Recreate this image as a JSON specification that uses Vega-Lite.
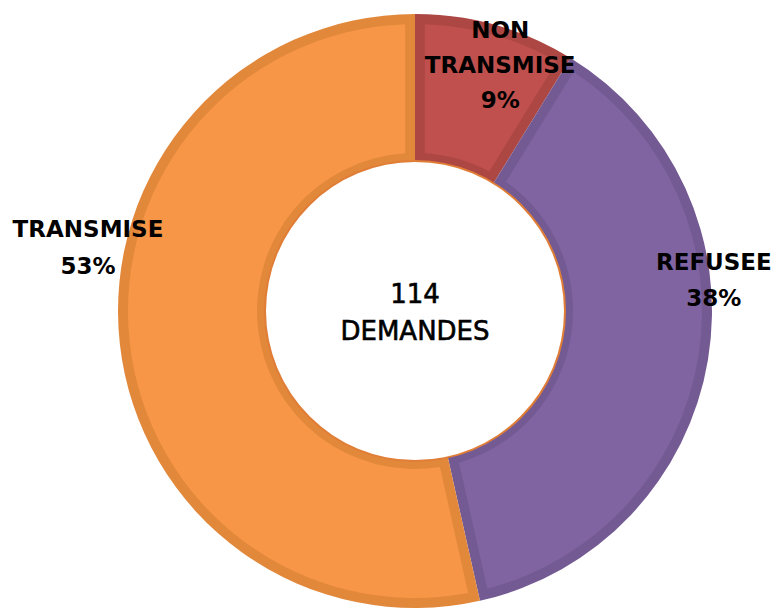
{
  "$schema": "https://vega.github.io/schema/vega-lite/v6.json",
  "width": 718,
  "height": 598,
  "autosize": {"type": "none"},
  "padding": {"left": 56, "top": 12, "right": 0, "bottom": 0},
  "background": "#ffffff",
  "config": {"view": {"stroke": null}, "text": {"font": "DejaVu Sans"}},
  "datasets": {
    "parts": [
      {"categorie": "NON TRANSMISE", "n": 10, "ordre": 1, "label": "NON\nTRANSMISE\n9%"},
      {"categorie": "REFUSEE", "n": 43, "ordre": 2, "label": "REFUSEE\n38%"},
      {"categorie": "TRANSMISE", "n": 61, "ordre": 3, "label": "TRANSMISE\n53%"}
    ],
    "centre": [{"texte": "114\nDEMANDES", "n": 114}]
  },
  "data": {"name": "parts"},
  "layer": [
    {
      "mark": {"type": "arc", "radius": 297, "radius2": 150},
      "encoding": {
        "theta": {"field": "n", "type": "quantitative", "stack": true},
        "order": {"field": "ordre", "type": "quantitative"},
        "color": {"field": "categorie", "type": "nominal", "legend": null,
          "scale": {"domain": ["NON TRANSMISE", "REFUSEE", "TRANSMISE"], "range": ["#AD4744", "#735A93", "#E2883B"]}}
      }
    },
    {
      "mark": {"type": "arc", "radius": 287, "radius2": 158, "padAngle": 0.06},
      "encoding": {
        "theta": {"field": "n", "type": "quantitative", "stack": true},
        "order": {"field": "ordre", "type": "quantitative"},
        "fill": {"field": "categorie", "type": "nominal", "legend": null,
          "scale": {"domain": ["NON TRANSMISE", "REFUSEE", "TRANSMISE"], "range": ["#C0504D", "#8064A2", "#F79646"]}}
      }
    },
    {
      "data": {"name": "centre"},
      "mark": {"type": "arc", "radius": 151, "radius2": 149, "color": "#E07D36"},
      "encoding": {"theta": {"field": "n", "type": "quantitative", "stack": true}}
    },
    {
      "data": {"name": "centre"},
      "mark": {"type": "text", "fontSize": 26, "fontWeight": "normal", "lineHeight": 37, "lineBreak": "\n", "align": "center", "baseline": "middle", "color": "#000000", "dy": -16, "stroke": "#000000", "strokeWidth": 0.6},
      "encoding": {"text": {"field": "texte", "type": "nominal"}}
    },
    {
      "transform": [
        {"stack": "n", "groupby": [], "sort": [{"field": "ordre"}], "as": ["t0", "t1"]},
        {"calculate": "(datum.t0 + datum.t1) / 2", "as": "tm"}
      ],
      "layer": [
        {
          "transform": [{"filter": "datum.categorie === 'NON TRANSMISE'"}],
          "mark": {"type": "text", "radius": 258, "dx": 15, "dy": -32, "fontSize": 23, "fontWeight": "bold", "lineHeight": 35, "lineBreak": "\n", "align": "center", "baseline": "middle", "color": "#000000"},
          "encoding": {"theta": {"field": "tm", "type": "quantitative", "stack": null}, "text": {"field": "label", "type": "nominal"}}
        },
        {
          "transform": [{"filter": "datum.categorie === 'REFUSEE'"}],
          "mark": {"type": "text", "radius": 303, "dy": -98, "fontSize": 23, "fontWeight": "bold", "lineHeight": 36, "lineBreak": "\n", "align": "center", "baseline": "middle", "color": "#000000"},
          "encoding": {"theta": {"field": "tm", "type": "quantitative", "stack": null}, "text": {"field": "label", "type": "nominal"}}
        },
        {
          "transform": [{"filter": "datum.categorie === 'TRANSMISE'"}],
          "mark": {"type": "text", "radius": 329, "dy": -117, "fontSize": 23, "fontWeight": "bold", "lineHeight": 37, "lineBreak": "\n", "align": "center", "baseline": "middle", "color": "#000000"},
          "encoding": {"theta": {"field": "tm", "type": "quantitative", "stack": null}, "text": {"field": "label", "type": "nominal"}}
        }
      ]
    }
  ],
  "resolve": {"scale": {"color": "independent", "fill": "independent"}}
}
